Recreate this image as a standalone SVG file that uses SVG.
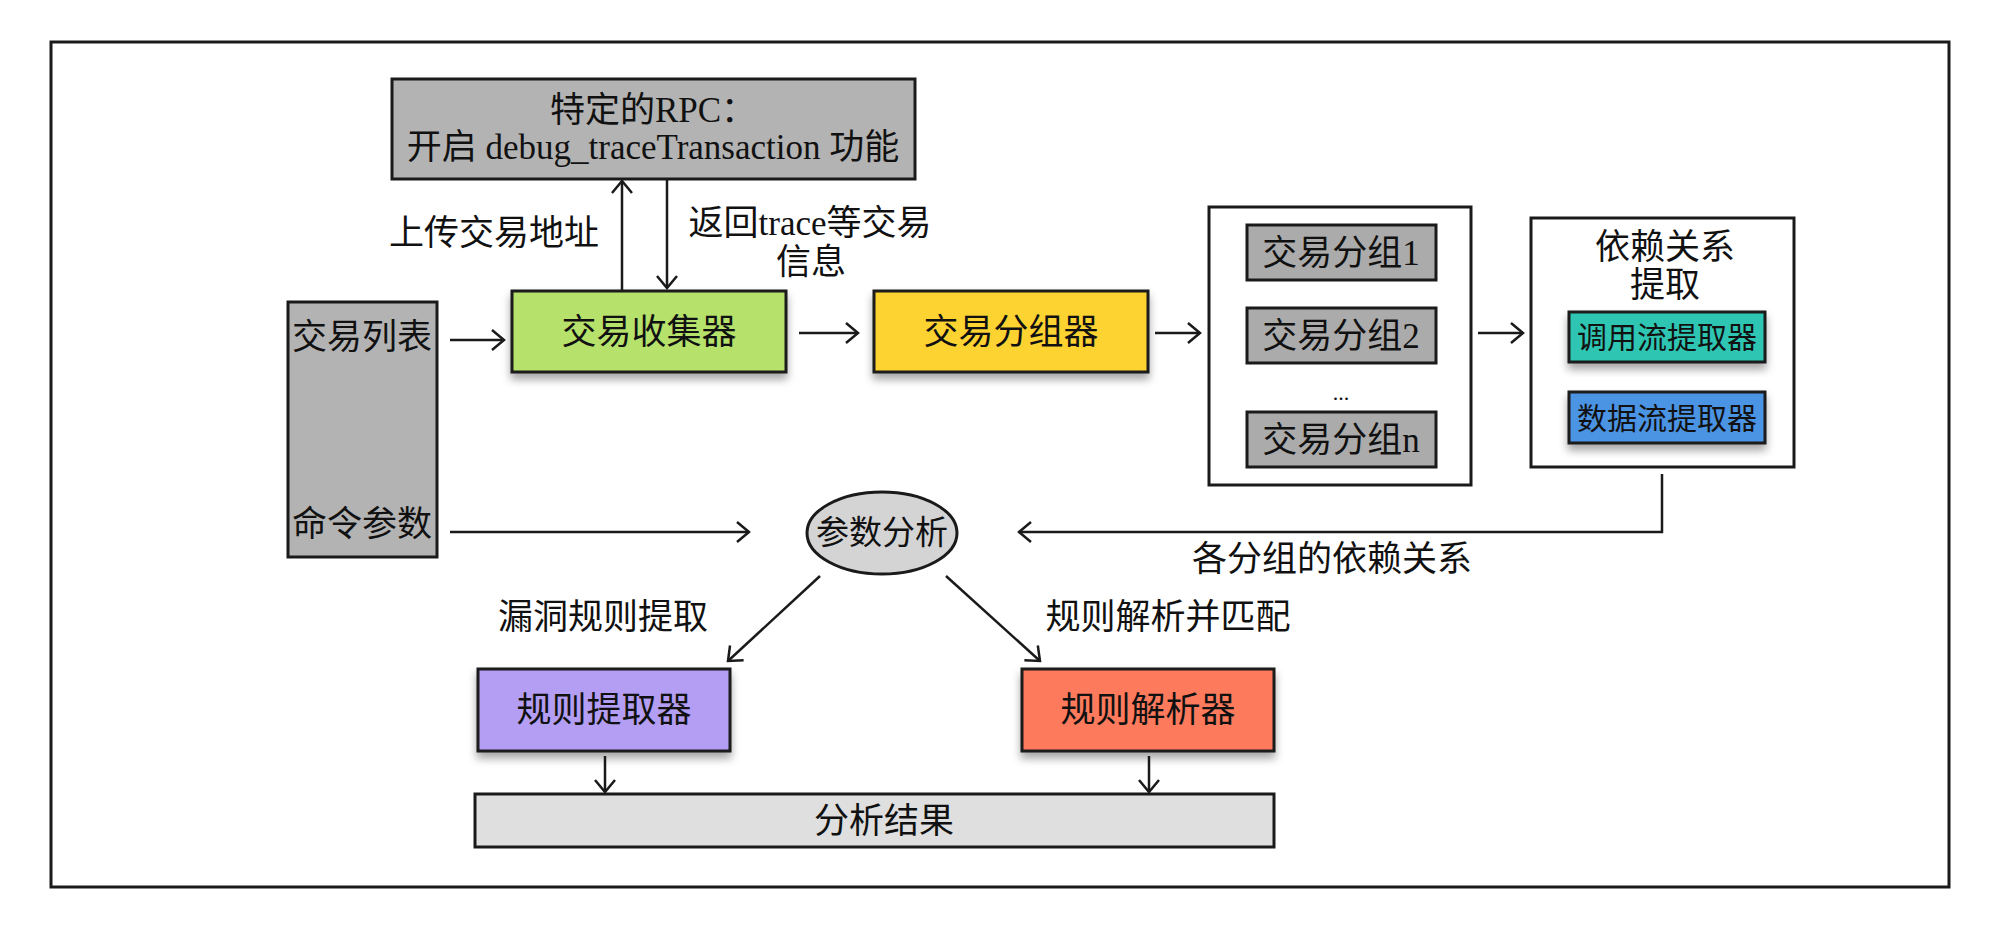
<svg xmlns="http://www.w3.org/2000/svg" width="2000" height="928" viewBox="0 0 2000 928">
<style>
text{font-family:"Liberation Serif","Noto Sans CJK SC",serif;font-size:35px;fill:#111;dominant-baseline:central}
.c{text-anchor:middle}
.box{stroke:#1a1a1a;stroke-width:3}
.ln{stroke:#1a1a1a;stroke-width:2.5;fill:none}
</style>
<defs>
<marker id="ah" markerUnits="userSpaceOnUse" markerWidth="18" markerHeight="26" refX="15" refY="12" orient="auto">
<path d="M3,2 L15,12 L3,22" fill="none" stroke="#1a1a1a" stroke-width="2.5"/>
</marker>
<filter id="sh" x="-10%" y="-20%" width="120%" height="150%">
<feDropShadow dx="0" dy="6" stdDeviation="4" flood-color="#000" flood-opacity="0.35"/>
</filter>
</defs>
<rect x="51" y="42" width="1898" height="845" fill="#fff" stroke="#1a1a1a" stroke-width="3"/>
<g id="rpc">
<rect class="box" x="392" y="79" width="523" height="100" fill="#b3b3b3"/>
<text class="c" x="653" y="110">特定的RPC：</text>
<text class="c" x="653" y="147">开启 debug_traceTransaction 功能</text>
</g>
<g id="label-upload"><text class="c" x="494" y="233">上传交易地址</text></g>
<g id="label-return">
<text class="c" x="810" y="223">返回trace等交易</text>
<text class="c" x="811" y="262">信息</text>
</g>
<g id="input">
<rect class="box" x="288" y="302" width="149" height="255" fill="#b3b3b3"/>
<text x="292" y="337">交易列表</text>
<text x="292" y="524">命令参数</text>
</g>
<g id="collector">
<rect class="box" x="512" y="291" width="274" height="81" fill="#b6e16b" filter="url(#sh)"/>
<text class="c" x="649" y="332">交易收集器</text>
</g>
<g id="grouper">
<rect class="box" x="874" y="291" width="274" height="81" fill="#fdd333" filter="url(#sh)"/>
<text class="c" x="1011" y="332">交易分组器</text>
</g>
<g id="groups">
<rect class="box" x="1209" y="207" width="262" height="278" fill="#fff"/>
<rect class="box" x="1247" y="225" width="189" height="55" fill="#ababab"/>
<text class="c" x="1341" y="253">交易分组1</text>
<rect class="box" x="1247" y="308" width="189" height="55" fill="#ababab"/>
<text class="c" x="1341" y="336">交易分组2</text>
<text class="c" x="1341" y="392" style="font-size:22px">...</text>
<rect class="box" x="1247" y="412" width="189" height="55" fill="#ababab"/>
<text class="c" x="1341" y="440">交易分组n</text>
</g>
<g id="dependency">
<rect class="box" x="1531" y="218" width="263" height="249" fill="#fff"/>
<text class="c" x="1665" y="247">依赖关系</text>
<text class="c" x="1665" y="285">提取</text>
<rect class="box" x="1569" y="312" width="196" height="50" fill="#2fc6b2" filter="url(#sh)"/>
<text class="c" x="1667" y="337" style="font-size:30px">调用流提取器</text>
<rect class="box" x="1569" y="392" width="196" height="51" fill="#4b93e3" filter="url(#sh)"/>
<text class="c" x="1667" y="418" style="font-size:30px">数据流提取器</text>
</g>
<g id="param">
<ellipse class="box" cx="882" cy="533" rx="75" ry="41" fill="#d4d4d4"/>
<text class="c" x="882" y="533" style="font-size:33px">参数分析</text>
</g>
<g id="label-deps"><text class="c" x="1332" y="559">各分组的依赖关系</text></g>
<g id="label-vuln"><text class="c" x="603" y="617">漏洞规则提取</text></g>
<g id="label-parse"><text class="c" x="1168" y="617">规则解析并匹配</text></g>
<g id="extractor">
<rect class="box" x="478" y="669" width="252" height="82" fill="#b49ef3" filter="url(#sh)"/>
<text class="c" x="604" y="710">规则提取器</text>
</g>
<g id="parser">
<rect class="box" x="1022" y="669" width="252" height="82" fill="#fd7a5b" filter="url(#sh)"/>
<text class="c" x="1148" y="710">规则解析器</text>
</g>
<g id="result">
<rect class="box" x="475" y="794" width="799" height="53" fill="#dfdfdf"/>
<text class="c" x="884" y="821">分析结果</text>
</g>
<g id="connectors">
<line class="ln" x1="622" y1="290" x2="622" y2="181" marker-end="url(#ah)"/>
<line class="ln" x1="667" y1="180" x2="667" y2="288" marker-end="url(#ah)"/>
<line class="ln" x1="450" y1="340" x2="504" y2="340" marker-end="url(#ah)"/>
<line class="ln" x1="799" y1="333" x2="858" y2="333" marker-end="url(#ah)"/>
<line class="ln" x1="1155" y1="333" x2="1200" y2="333" marker-end="url(#ah)"/>
<line class="ln" x1="1478" y1="333" x2="1523" y2="333" marker-end="url(#ah)"/>
<polyline class="ln" points="1662,474 1662,532 1019,532" marker-end="url(#ah)"/>
<line class="ln" x1="450" y1="532" x2="749" y2="532" marker-end="url(#ah)"/>
<line class="ln" x1="820" y1="576" x2="728" y2="661" marker-end="url(#ah)"/>
<line class="ln" x1="946" y1="576" x2="1040" y2="661" marker-end="url(#ah)"/>
<line class="ln" x1="605" y1="756" x2="605" y2="792" marker-end="url(#ah)"/>
<line class="ln" x1="1149" y1="756" x2="1149" y2="792" marker-end="url(#ah)"/>
</g>
</svg>
